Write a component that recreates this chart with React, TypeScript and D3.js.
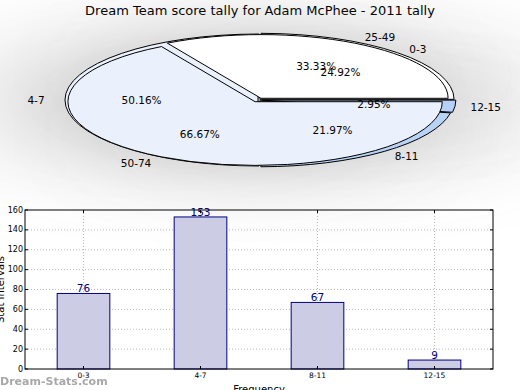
import * as d3 from "d3";
import {useRef, useEffect} from "react";

// data
const freqLabels = ["0-3", "4-7", "8-11", "12-15"];
const freqValues = [76, 153, 67, 9];
const freqColors = ["#ffffff", "#eaf0fc", "#b9d3f6", "#b6d0f7"];
const freqExplode = [0.015, 0.0, 0.015, 0.02];

const rangeLabels = ["25-49", "50-74"];
const rangeValues = [1, 2];
const rangeColors = ["#ffffff", "#eaf0fc"];
const rangeExplode = [0.03, 0.03];

const yTicks = [0, 20, 40, 60, 80, 100, 120, 140, 160];

const W = 520;
const H = 390;

const App = () => {
    const chartRef = useRef<SVGSVGElement | null>(null);

    useEffect(() => {
        const svg = d3.select(chartRef.current);
        svg.selectAll("*").remove();
        const font = "DejaVu Sans, sans-serif";

        // title
        svg.append("text")
            .attr("x", 260).attr("y", 15)
            .attr("text-anchor", "middle")
            .style("font-family", font).style("font-size", "13px")
            .text("Dream Team score tally for Adam McPhee - 2011 tally");

        // ---------- pie (ellipse) ----------
        const cx = 258, cy = 100, rx = 194, ry = 66;
        // matplotlib style: start at 3 o'clock, counterclockwise
        const pie = d3.pie<number>().sort(null)
            .startAngle(Math.PI / 2)
            .endAngle(Math.PI / 2 - 2 * Math.PI);
        const arc = d3.arc<d3.PieArcDatum<number>>().innerRadius(0).outerRadius(1);

        const drawPie = (values: number[], colors: string[], explode: number[], scale: number, shadow: boolean) => {
            const arcs = pie(values);
            const total = d3.sum(values);
            const g = svg.append("g");
            const mid = (d: d3.PieArcDatum<number>) => (d.startAngle + d.endAngle) / 2;
            const off = (d: d3.PieArcDatum<number>, i: number) => {
                const a = mid(d);
                return [explode[i] * rx * Math.sin(a), -explode[i] * ry * Math.cos(a)];
            };
            if (shadow) {
                g.selectAll(".shadow")
                    .data(arcs)
                    .enter()
                    .append("path")
                    .attr("d", d => arc(d))
                    .attr("transform", (d, i) => {
                        const [dx, dy] = off(d, i);
                        return `translate(${cx + dx - 3.5}, ${cy + dy + 1.5}) scale(${rx * scale}, ${ry * scale})`;
                    })
                    .style("fill", "#555")
                    .style("opacity", 0.55)
                    .style("filter", "blur(0.6px)");
            }
            g.selectAll(".wedge")
                .data(arcs)
                .enter()
                .append("path")
                .attr("d", d => arc(d))
                .attr("transform", (d, i) => {
                    const [dx, dy] = off(d, i);
                    return `translate(${cx + dx}, ${cy + dy}) scale(${rx * scale}, ${ry * scale})`;
                })
                .attr("vector-effect", "non-scaling-stroke")
                .style("fill", (d, i) => colors[i])
                .style("stroke", "#000")
                .style("stroke-width", 1);
            return {arcs, total, mid};
        };

        const p1 = drawPie(freqValues, freqColors, freqExplode, 1.0, true);
        const p2 = drawPie(rangeValues, rangeColors, rangeExplode, 0.965, false);

        const pieText = (p: typeof p1, labels: string[]) => {
            p.arcs.forEach((d, i) => {
                const a = p.mid(d);
                const s = Math.sin(a), c = Math.cos(a);
                svg.append("text")
                    .attr("x", cx + 1.1 * rx * s)
                    .attr("y", cy - 1.1 * ry * c)
                    .attr("text-anchor", s > 0 ? "start" : "end")
                    .attr("dominant-baseline", "central")
                    .style("font-family", font).style("font-size", "10.5px")
                    .text(labels[i]);
                svg.append("text")
                    .attr("x", cx + 0.6 * rx * s)
                    .attr("y", cy - 0.6 * ry * c)
                    .attr("text-anchor", "middle")
                    .attr("dominant-baseline", "central")
                    .style("font-family", font).style("font-size", "10.5px")
                    .text((d.value / p.total * 100).toFixed(2) + "%");
            });
        };
        pieText(p1, freqLabels);
        pieText(p2, rangeLabels);

        // ---------- bar chart ----------
        const left = 25, right = 493, top = 210, bottom = 369;
        const x = d3.scaleLinear().domain([-0.5, freqLabels.length - 0.5]).range([left, right]);
        const y = d3.scaleLinear().domain([0, 160]).range([bottom, top]);
        const barW = 0.45;

        const grid = svg.append("g");
        grid.selectAll(".hg")
            .data(yTicks.slice(1, -1))
            .enter()
            .append("line")
            .attr("x1", left).attr("x2", right)
            .attr("y1", d => y(d)).attr("y2", d => y(d))
            .style("stroke", "#b8b8b8").style("stroke-dasharray", "1,2");
        grid.selectAll(".vg")
            .data(freqLabels)
            .enter()
            .append("line")
            .attr("x1", (d, i) => x(i)).attr("x2", (d, i) => x(i))
            .attr("y1", top).attr("y2", bottom)
            .style("stroke", "#b8b8b8").style("stroke-dasharray", "1,2");

        svg.selectAll(".bar")
            .data(freqValues)
            .enter()
            .append("rect")
            .attr("x", (d, i) => x(i - barW / 2))
            .attr("y", d => y(d))
            .attr("width", x(barW) - x(0))
            .attr("height", d => bottom - y(d))
            .style("fill", "#ccccE4")
            .style("stroke", "#000080")
            .style("stroke-width", 1);

        svg.selectAll(".barval")
            .data(freqValues)
            .enter()
            .append("text")
            .attr("x", (d, i) => x(i))
            .attr("y", d => y(d) - 1)
            .attr("text-anchor", "middle")
            .style("font-family", font).style("font-size", "10.5px")
            .style("fill", "#000080")
            .text(d => d);

        // frame
        svg.append("rect")
            .attr("x", left).attr("y", top)
            .attr("width", right - left).attr("height", bottom - top)
            .style("fill", "none").style("stroke", "#000").style("stroke-width", 1);

        // ticks
        const ticks = svg.append("g");
        yTicks.forEach(t => {
            ticks.append("line").attr("x1", left).attr("x2", left + 3)
                .attr("y1", y(t)).attr("y2", y(t)).style("stroke", "#000");
            ticks.append("line").attr("x1", right - 3).attr("x2", right)
                .attr("y1", y(t)).attr("y2", y(t)).style("stroke", "#000");
            ticks.append("text")
                .attr("x", left - 2).attr("y", y(t))
                .attr("text-anchor", "end").attr("dominant-baseline", "central")
                .style("font-family", font).style("font-size", "8px")
                .text(t);
        });
        freqLabels.forEach((l, i) => {
            ticks.append("line").attr("x1", x(i)).attr("x2", x(i))
                .attr("y1", bottom).attr("y2", bottom - 3).style("stroke", "#000");
            ticks.append("line").attr("x1", x(i)).attr("x2", x(i))
                .attr("y1", top).attr("y2", top + 3).style("stroke", "#000");
            ticks.append("text")
                .attr("x", x(i)).attr("y", bottom + 9)
                .attr("text-anchor", "middle")
                .style("font-family", font).style("font-size", "7.5px")
                .text(l);
        });

        // axis labels (cut off by the edges, as in the original)
        svg.append("text")
            .attr("transform", `translate(0, ${(top + bottom) / 2}) rotate(-90)`)
            .attr("text-anchor", "middle")
            .attr("dominant-baseline", "central")
            .style("font-family", font).style("font-size", "10px")
            .text("Stat Intervals");
        svg.append("text")
            .attr("x", 259).attr("y", 393)
            .attr("text-anchor", "middle")
            .style("font-family", font).style("font-size", "10px")
            .text("Frequency");

        // watermark
        svg.append("text")
            .attr("x", 0).attr("y", 385)
            .style("font-family", font).style("font-size", "11px")
            .style("font-weight", "bold")
            .style("fill", "#999").style("opacity", 0.85)
            .text("Dream-Stats.com");
    }, []);

    return (
        <svg ref={chartRef} width={W} height={H} style={{
            position: "absolute",
            left: 0,
            top: 0,
            background: "#fff"
        }}></svg>
    );
};

export default App;
